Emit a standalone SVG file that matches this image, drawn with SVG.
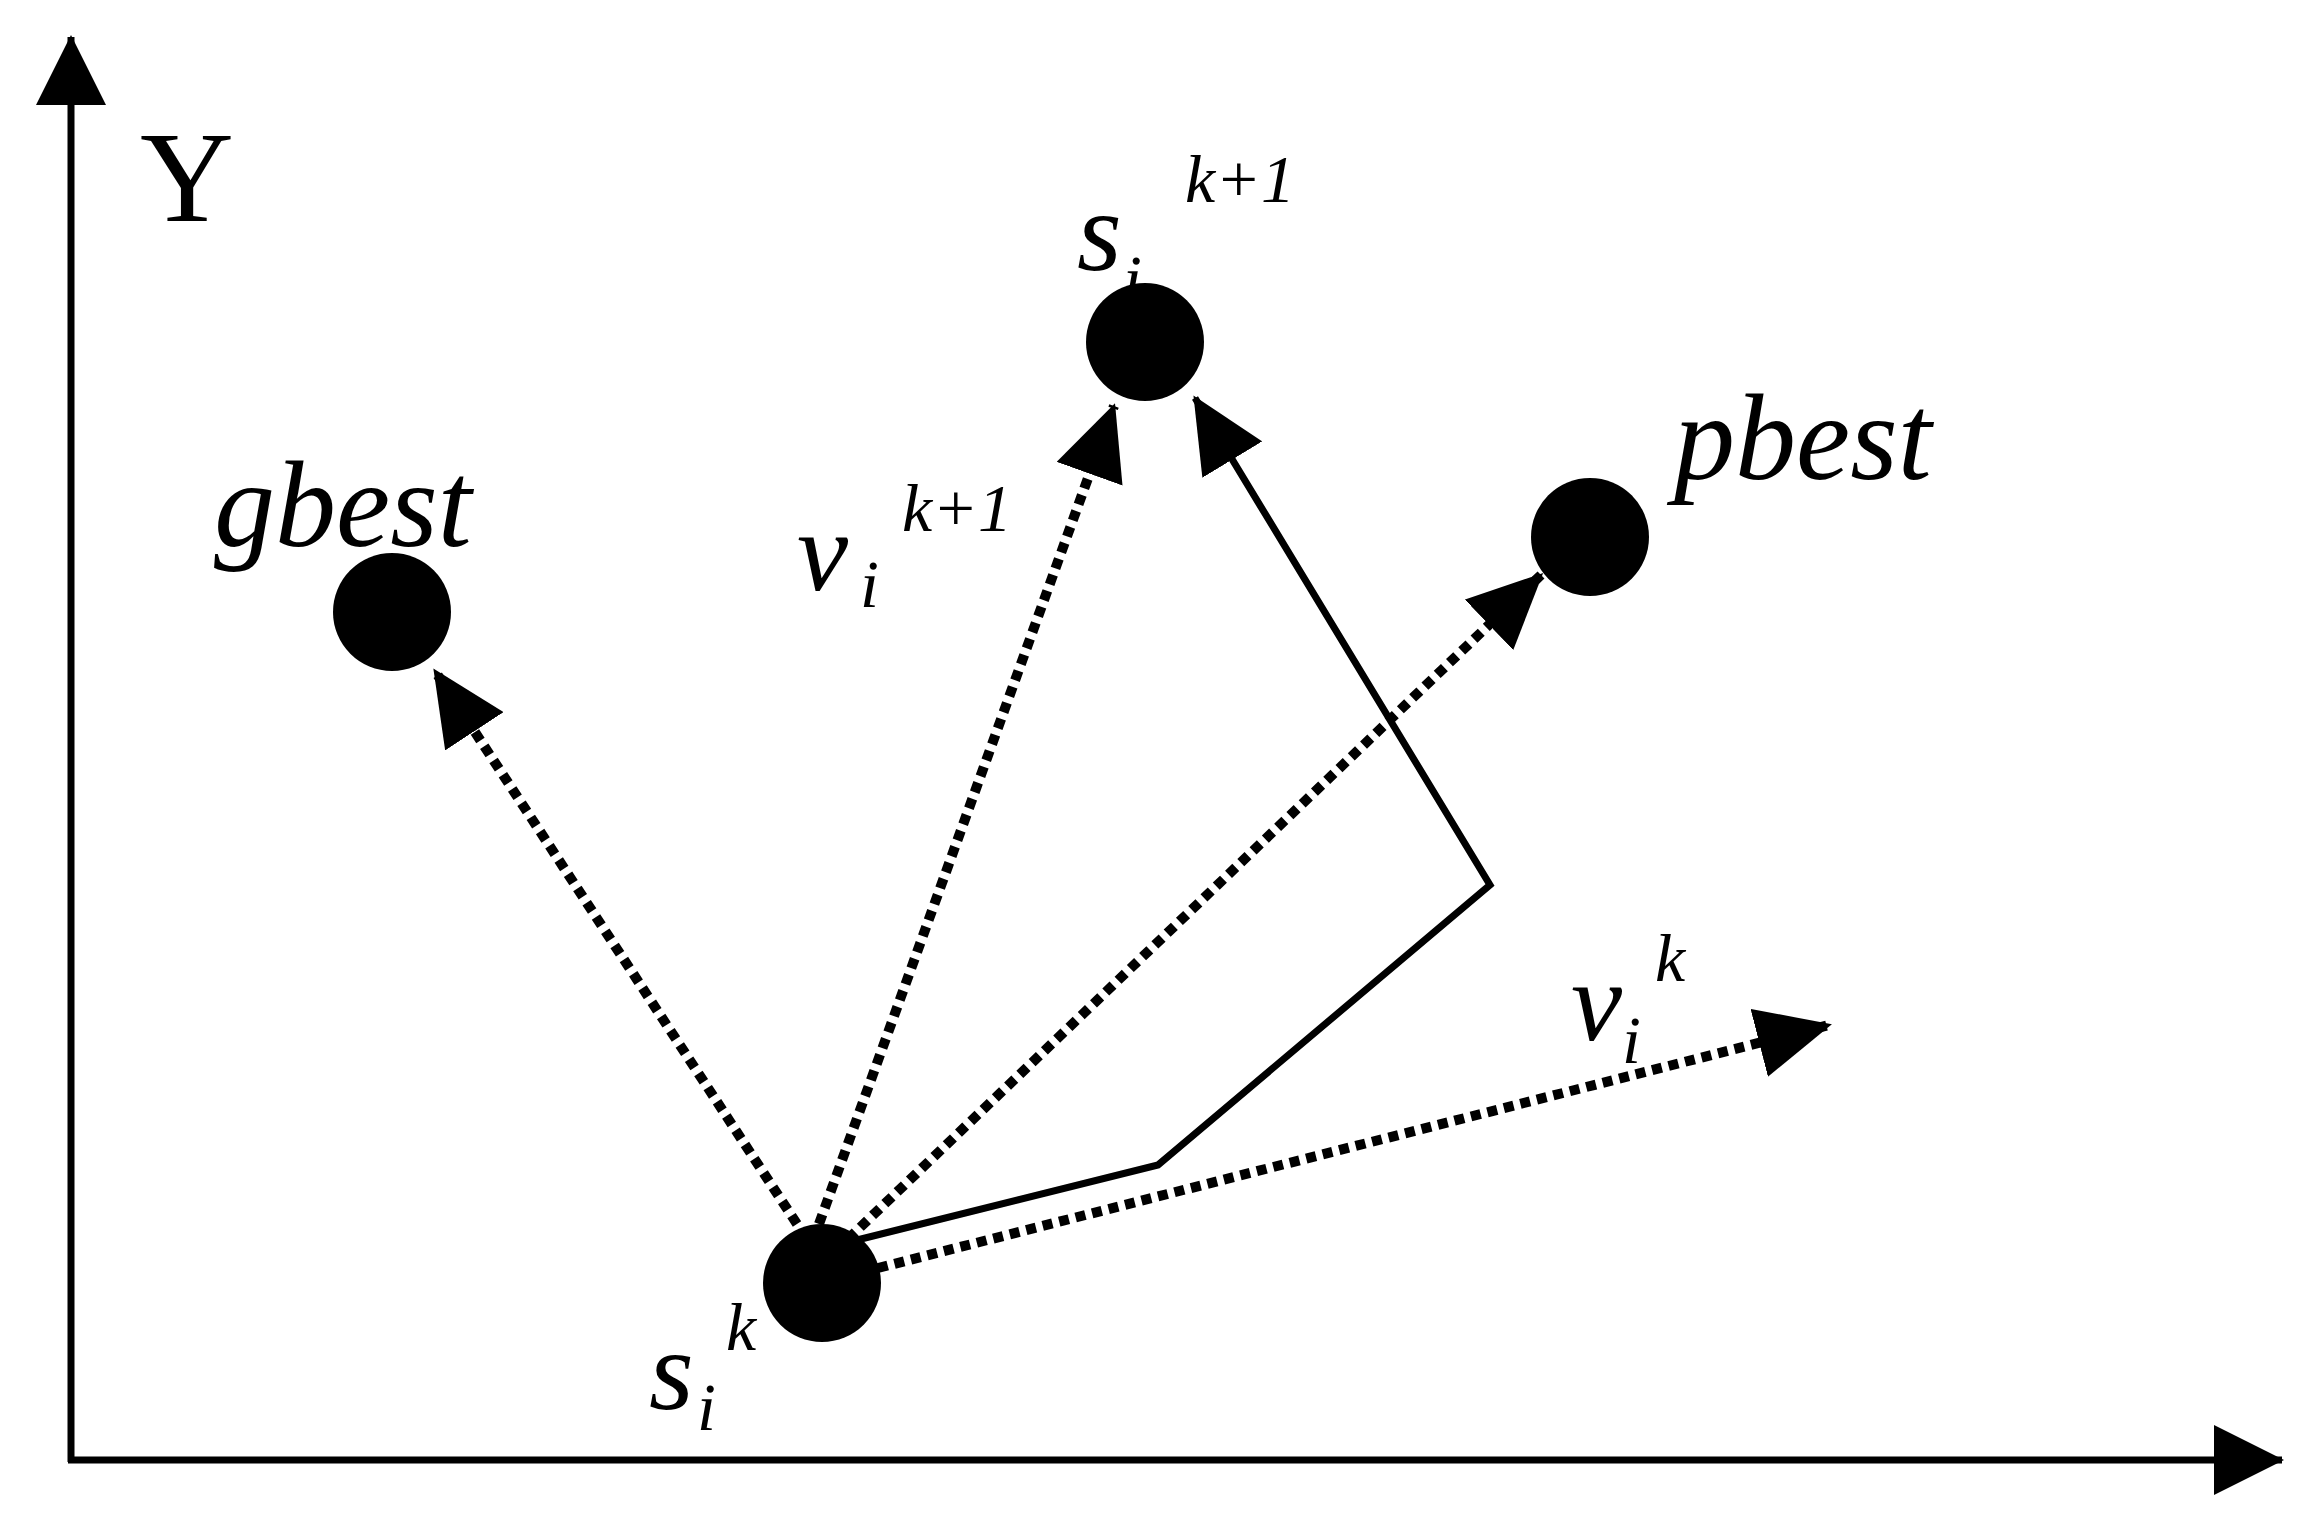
<svg xmlns="http://www.w3.org/2000/svg" width="2313" height="1536" viewBox="0 0 2313 1536">
<style>
.ax{stroke:#000;stroke-width:7;fill:none}
.dot{stroke:#000;stroke-width:10;fill:none;stroke-dasharray:10 7}
.sol{stroke:#000;stroke-width:7;fill:none}
text{font-family:"Liberation Serif",serif;font-style:italic;fill:#000}
.b{font-size:115px}.s{font-size:68px}.g{font-size:122px}
</style>
<defs>
<marker id="bh" markerWidth="75" markerHeight="70" refX="72" refY="35" orient="auto" markerUnits="userSpaceOnUse"><path d="M0,0 L75,35 L0,70 z" fill="#000"/></marker>
<marker id="axh" markerWidth="70" markerHeight="70" refX="68" refY="35" orient="auto" markerUnits="userSpaceOnUse"><path d="M0,0 L70,35 L0,70 z" fill="#000"/></marker>
</defs>
<g id="axes">
<line class="ax" x1="71" y1="1462" x2="71" y2="37" marker-end="url(#axh)"/>
<line class="ax" x1="68" y1="1460" x2="2282" y2="1460" marker-end="url(#axh)"/>
<text x="140" y="221" style="font-style:normal;font-size:130px">Y</text>
</g>
<g id="connectors">
<line class="dot" x1="797" y1="1224" x2="435" y2="671" marker-end="url(#bh)"/>
<line class="dot" x1="819" y1="1224" x2="1114" y2="406" marker-end="url(#bh)"/>
<line class="dot" x1="848" y1="1239" x2="1541" y2="575" marker-end="url(#bh)"/>
<line class="dot" x1="878" y1="1268" x2="1829" y2="1025" marker-end="url(#bh)"/>
<polyline class="sol" points="833,1246 1158,1165 1490,885 1195,398" marker-end="url(#bh)"/>
</g>
<g id="sk"><circle cx="822" cy="1283" r="59"/>
<text class="b" x="649" y="1409">s</text><text class="s" x="697" y="1430">i</text><text class="s" x="726" y="1350">k</text></g>
<g id="sk1"><circle cx="1145" cy="342" r="59"/>
<text class="b" x="1077" y="270">s</text><text class="s" x="1123" y="302">i</text><text class="s" x="1185" y="202">k+1</text></g>
<g id="gbest"><circle cx="392" cy="612" r="59"/><text class="g" x="214" y="546">gbest</text></g>
<g id="pbest"><circle cx="1590" cy="537" r="59"/><text class="g" x="1674" y="479">pbest</text></g>
<g id="vk1"><text class="b" x="797" y="590">v</text><text class="s" x="860" y="607">i</text><text class="s" x="902" y="531">k+1</text></g>
<g id="vk"><text class="b" x="1571" y="1040">v</text><text class="s" x="1622" y="1063">i</text><text class="s" x="1655" y="981">k</text></g>
</svg>
